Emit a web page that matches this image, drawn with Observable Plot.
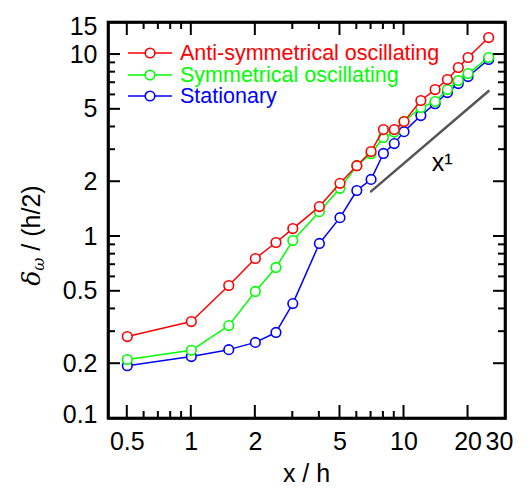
<!DOCTYPE html>
<html>
<head>
<meta charset="utf-8">
<script src="https://cdn.jsdelivr.net/npm/d3@7"></script>
<script src="https://cdn.jsdelivr.net/npm/@observablehq/plot@0.6"></script>
<style>
  html, body { margin: 0; padding: 0; background: #fff; }
  #wrap { position: relative; width: 530px; height: 490px; font-family: "Liberation Sans", Arial, Helvetica, sans-serif; }
  #chart { position: absolute; left: 0; top: 0; }
  .lg-row { position: absolute; left: 128px; height: 22px; line-height: 22px; display: flex; align-items: center; white-space: nowrap; font-size: 21.5px; }
  .lg-row svg { display: block; width: 52px; height: 14px; }
  #xtitle { position: absolute; left: 108px; width: 397px; top: 461px; height: 25px; line-height: 25px; text-align: center; font-size: 25px; color: #000; }
  #ytitle { position: absolute; left: -118.7px; top: 222.5px; width: 300px; height: 25px; line-height: 25px; text-align: center; font-size: 25px; color: #000; transform: rotate(-90deg); transform-origin: 50% 50%; white-space: nowrap; }
  #ytitle i { font-family: "DejaVu Serif", "Liberation Serif", serif; }
  #ytitle sub { font-size: 16px; vertical-align: -4px; line-height: 0; }
</style>
</head>
<body>
<div id="wrap">
  <div id="chart"></div>
  <div id="legend"></div>
  <div id="xtitle"></div>
  <div id="ytitle"><i>&#948;<sub>&#969;</sub></i>&nbsp;/ (h/2)</div>
</div>
<script>
// ---- data ----
const xs = [0.5, 1, 1.5, 2, 2.5, 3, 4, 5, 6, 7, 8, 9, 10, 12, 14, 16, 18, 20, 25];
const antiSym    = [0.282, 0.341, 0.538, 0.757, 0.927, 1.106, 1.46, 1.96, 2.45, 2.93, 3.87, 3.87, 4.28, 5.59, 6.42, 7.29, 8.49, 9.63, 12.4];
const sym        = [0.211, 0.237, 0.324, 0.499, 0.676, 0.95, 1.37, 1.84, 2.45, 2.85, 3.5, 3.75, 4.3, 5.11, 5.52, 6.42, 7.2, 7.86, 9.63];
const stationary = [0.195, 0.219, 0.239, 0.262, 0.297, 0.428, 0.916, 1.27, 1.79, 2.06, 2.86, 3.24, 3.77, 4.62, 5.37, 6.18, 6.93, 7.57, 9.39];
const seriesNames  = ["Anti-symmetrical oscillating", "Symmetrical oscillating", "Stationary"];
const seriesColors = ["#ff0000", "#00ff00", "#0000ff"];

const guideX = [7, 25];
const guideY = [1.77, 6.3];
const guideLabel = ["x\u00b9"];
const guideLabelX = [13.5];
const guideLabelY = [2.55];

const xMajor = [0.5, 1, 2, 5, 10, 20];
const xMinor = [0.6, 0.7, 0.8, 0.9, 3, 4, 6, 7, 8, 9];
const xLabels = [0.5, 1, 2, 5, 10, 20];
const xEdgeLabels = [30];
const yMajor = [0.2, 0.5, 1, 2, 5, 10];
const yMinor = [0.3, 0.4, 0.6, 0.7, 0.8, 0.9, 3, 4, 6, 7, 8, 9];
const yLabels = [0.2, 0.5, 1, 2, 5, 10];
const yTopLabels = [15];
const yBottomLabels = [0.1];

const xTitle = "x / h";

// ---- build ----
const toRows = (vals) => xs.map((x, i) => ({x, y: vals[i]}));
const series = [antiSym, sym, stationary].map((v, i) => ({name: seriesNames[i], color: seriesColors[i], rows: toRows(v)}));
const guideRows = guideX.map((x, i) => ({x, y: guideY[i]}));
const guideText = guideLabel.map((t, i) => ({t, x: guideLabelX[i], y: guideLabelY[i]}));

const FONT = "Liberation Sans, Arial, Helvetica, sans-serif";
const fmt = (d) => String(d);

const dataMarks = [];
for (const s of [...series].reverse()) {
  dataMarks.push(Plot.line(s.rows, {x: "x", y: "y", stroke: s.color, strokeWidth: 1.5}));
  dataMarks.push(Plot.dot(s.rows, {x: "x", y: "y", r: 4.8, stroke: s.color, fill: "white", strokeWidth: 1.6}));
}

const xLab = (vals, dx) => Plot.text(vals, {x: d => d, frameAnchor: "bottom", dy: 14, dx, lineAnchor: "top", text: fmt, fontSize: 25, fill: "black"});
const yLab = (vals, dy) => Plot.text(vals, {y: d => d, frameAnchor: "left", dx: -11, dy, textAnchor: "end", lineAnchor: "middle", text: fmt, fontSize: 25, fill: "black"});

const chart = Plot.plot({
  width: 530,
  height: 490,
  marginLeft: 108,
  marginRight: 25,
  marginTop: 22,
  marginBottom: 72,
  style: {fontFamily: FONT},
  x: {type: "log", domain: [0.408, 30], axis: null},
  y: {type: "log", domain: [0.1, 15], axis: null},
  marks: [
    Plot.line(guideRows, {x: "x", y: "y", stroke: "#555555", strokeWidth: 2.5}),
    Plot.text(guideText, {x: "x", y: "y", text: "t", textAnchor: "start", lineAnchor: "middle", fontSize: 25, fill: "black"}),
    ...dataMarks,
    xLab(xLabels, 0),
    xLab(xEdgeLabels, -6),
    yLab(yLabels, 0),
    yLab(yTopLabels, 4),
    yLab(yBottomLabels, -4),
    Plot.frame({stroke: "black", strokeWidth: 2.6})
  ]
});

const svg = d3.select(chart);
const sx = chart.scale("x"), sy = chart.scale("y");
const [x0, x1] = sx.range;
const [yb, yt0] = sy.range;

// inward ticks on all four sides, positioned by the plot's scales
const tg = svg.append("g").attr("stroke", "black").attr("stroke-width", 2).attr("fill", "none");
const xt = (vals, len) => vals.forEach(v => {
  const px = sx.apply(v);
  tg.append("line").attr("x1", px).attr("x2", px).attr("y1", yb).attr("y2", yb - len);
  tg.append("line").attr("x1", px).attr("x2", px).attr("y1", yt0).attr("y2", yt0 + len);
});
const ytk = (vals, len) => vals.forEach(v => {
  const py = sy.apply(v);
  tg.append("line").attr("y1", py).attr("y2", py).attr("x1", x0).attr("x2", x0 + len);
  tg.append("line").attr("y1", py).attr("y2", py).attr("x1", x1).attr("x2", x1 - len);
});
xt(xMajor, 13); xt(xMinor, 7);
ytk(yMajor, 12); ytk(yMinor, 7);
svg.append("rect").attr("x", x0).attr("y", yt0).attr("width", x1 - x0).attr("height", yb - yt0)
  .attr("fill", "none").attr("stroke", "black").attr("stroke-width", 2.6);

document.getElementById("chart").appendChild(chart);

// HTML legend overlay
const legend = d3.select("#legend");
series.forEach((s, i) => {
  const cy = 53 + i * 21.6;
  const row = legend.append("div").attr("class", "lg-row").style("top", (cy - 11) + "px").style("color", s.color);
  const ls = row.append("svg").attr("viewBox", "0 0 52 14");
  ls.append("line").attr("x1", 0).attr("x2", 44).attr("y1", 7).attr("y2", 7).attr("stroke", s.color).attr("stroke-width", 1.5);
  ls.append("circle").attr("cx", 22).attr("cy", 7).attr("r", 4.8).attr("stroke", s.color).attr("fill", "white").attr("stroke-width", 1.6);
  row.append("span").text(s.name);
});

document.getElementById("xtitle").textContent = xTitle;
</script>
</body>
</html>
